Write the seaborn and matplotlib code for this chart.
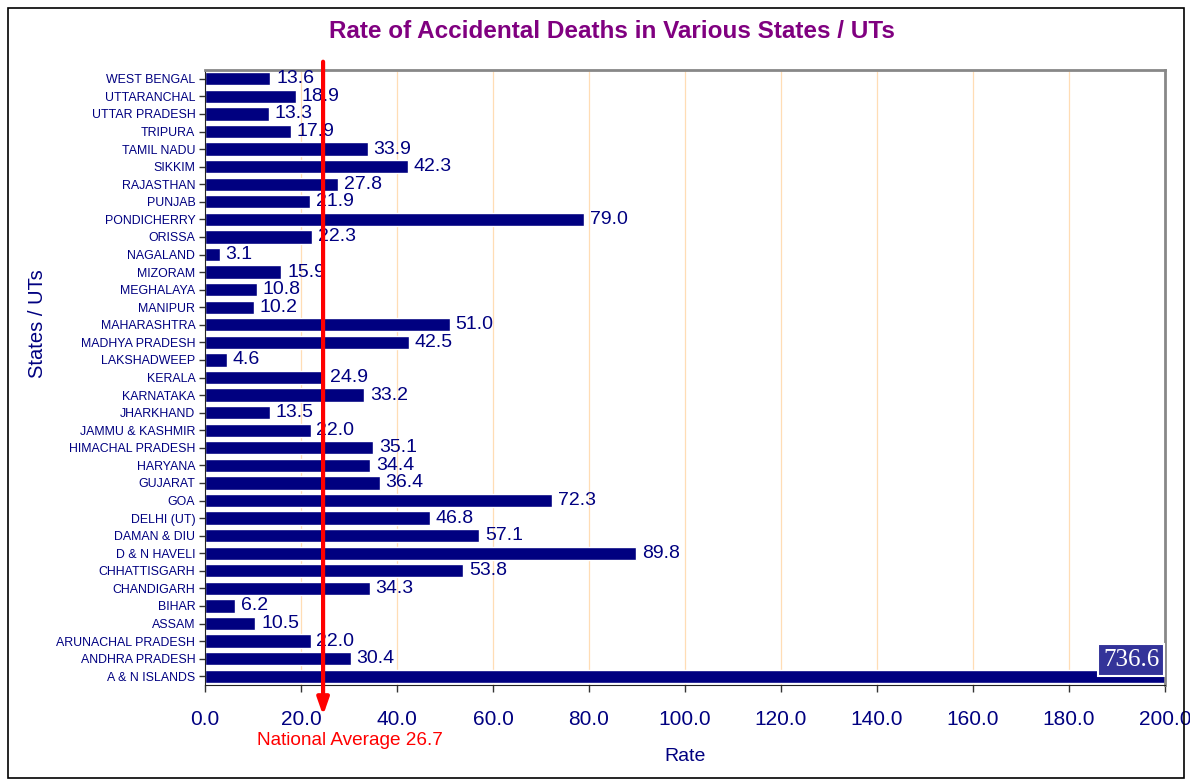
import pandas as pd
import seaborn as sns
import matplotlib.pyplot as plt
from matplotlib.patches import Rectangle

states = ["WEST BENGAL", "UTTARANCHAL", "UTTAR PRADESH", "TRIPURA", "TAMIL NADU",
          "SIKKIM", "RAJASTHAN", "PUNJAB", "PONDICHERRY", "ORISSA", "NAGALAND",
          "MIZORAM", "MEGHALAYA", "MANIPUR", "MAHARASHTRA", "MADHYA PRADESH",
          "LAKSHADWEEP", "KERALA", "KARNATAKA", "JHARKHAND", "JAMMU & KASHMIR",
          "HIMACHAL PRADESH", "HARYANA", "GUJARAT", "GOA", "DELHI (UT)",
          "DAMAN & DIU", "D & N HAVELI", "CHHATTISGARH", "CHANDIGARH", "BIHAR",
          "ASSAM", "ARUNACHAL PRADESH", "ANDHRA PRADESH", "A & N ISLANDS"]
rates = [13.6, 18.9, 13.3, 17.9, 33.9, 42.3, 27.8, 21.9, 79.0, 22.3, 3.1,
         15.9, 10.8, 10.2, 51.0, 42.5, 4.6, 24.9, 33.2, 13.5, 22.0,
         35.1, 34.4, 36.4, 72.3, 46.8, 57.1, 89.8, 53.8, 34.3, 6.2,
         10.5, 22.0, 30.4, 736.6]
national_avg = 26.7
arrow_x = 24.6  # where the arrow sits in the picture
xticks = [0, 20, 40, 60, 80, 100, 120, 140, 160, 180, 200]

df = pd.DataFrame({"state": states, "rate": rates})

navy = "#000080"
sns.set_style("white")
plt.rcParams["font.family"] = ["Liberation Sans", "DejaVu Sans"]
fig = plt.figure(figsize=(11.9, 7.82), dpi=100)
ax = fig.add_axes([205/1190, 1-685/782, 960/1190, 615/782])

sns.barplot(data=df, x="rate", y="state", orient="h", color=navy,
            saturation=1, width=0.75, ax=ax)

ax.set_xlim(0, 200)
ax.set_xticks(xticks)
ax.set_xticklabels([f"{t:.1f}" for t in xticks], color=navy, fontsize=15)
ax.tick_params(axis="x", length=5, width=1, color="#333333", pad=13, direction="out")
ax.tick_params(axis="y", length=4, width=1, color="#333333", direction="out", pad=3)
ax.set_yticks(range(len(states)))
ax.set_yticklabels(states, color=navy, fontsize=8.9)
ax.tick_params(bottom=True, left=True)
ax.set_ylim(len(states) - 0.5, -0.5)
for t in xticks[1:-1]:
    ax.axvline(t, color="#FFDDB5", lw=0.9, zorder=0)
for s in ["top", "right"]:
    ax.spines[s].set_color("#888888")
    ax.spines[s].set_linewidth(2)
ax.spines["left"].set_color("#222222")
ax.spines["bottom"].set_color("#222222")

for i, v in enumerate(rates):
    if v < 200:
        ax.text(v + 1.2, i, f"{v:.1f}", va="center", ha="left", color=navy, fontsize=14)
    else:
        ax.text(198.8, i - 0.9, f"{v:.1f}", va="center", ha="right", color="white",
                fontsize=18, family="Liberation Serif",
                bbox=dict(boxstyle="square,pad=0.2", fc="#333399", ec="white", lw=1.5))

ax.set_xlabel("Rate", color=navy, fontsize=14)
ax.xaxis.set_label_coords(0.5, -0.103)
ax.set_ylabel("States / UTs", color=navy, fontsize=14.5)
ax.yaxis.set_label_coords(-0.165, 0.587)

ax.annotate("", xy=(arrow_x, -0.054), xytext=(arrow_x, 1.018),
            xycoords=("data", "axes fraction"), textcoords=("data", "axes fraction"),
            arrowprops=dict(arrowstyle="-|>,head_width=0.35,head_length=1.0",
                            color="red", lw=3), annotation_clip=False)
ax.text(arrow_x + 5.6, -0.09, f"National Average {national_avg}", color="red",
        fontsize=13.7, ha="center", va="center", transform=ax.get_xaxis_transform())

fig.text(612/1190, 1-32/782, "Rate of Accidental Deaths in Various States / UTs",
         color="#800080", fontsize=17.5, fontweight="bold", ha="center", va="center")
fig.patches.append(Rectangle((8/1190, 4/782), 1176/1190, 770/782, fill=False,
                             ec="black", lw=1.2, transform=fig.transFigure))

fig.savefig("out.png", dpi=100)
